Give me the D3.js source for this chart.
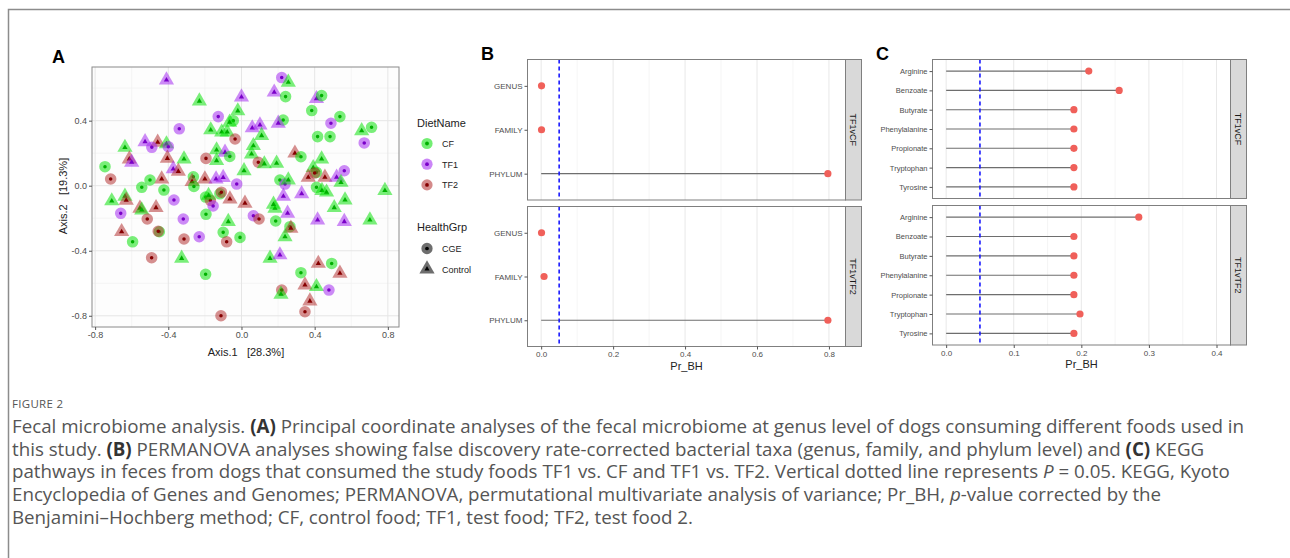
<!doctype html>
<html>
<head>
<meta charset="utf-8">
<title>Figure 2</title>
<style>
  body { margin: 0; background: #fff; }
  svg { display: block; font-family: "Liberation Sans", Arial, sans-serif; }
</style>
<script src="https://cdnjs.cloudflare.com/ajax/libs/d3/7.8.5/d3.min.js"></script>
</head>
<body>
<svg id="fig" width="1290" height="558"></svg>
<script>

// ---- panel A: PCoA points [Axis.1, Axis.2, diet, health group]
var pcoa = [
  [-0.41,0.65,"TF1","Control"],[0.22,0.665,"TF1","CGE"],[0.256,0.636,"CF","Control"],
  [-0.23,0.52,"CF","Control"],[0.0,0.545,"TF1","Control"],[0.179,0.575,"TF1","Control"],
  [0.241,0.548,"CF","CGE"],[0.41,0.535,"TF1","Control"],[0.438,0.554,"CF","CGE"],
  [0.384,0.462,"CF","CGE"],[-0.02,0.46,"CF","Control"],[-0.127,0.425,"TF1","CGE"],
  [-0.045,0.40,"CF","CGE"],[-0.065,0.39,"CF","Control"],[0.228,0.404,"CF","CGE"],
  [0.201,0.384,"TF1","Control"],[0.538,0.425,"CF","CGE"],[0.489,0.384,"TF1","CGE"],
  [-0.34,0.35,"TF1","CGE"],[0.059,0.355,"TF1","Control"],[0.101,0.373,"TF1","Control"],
  [0.11,0.308,"CF","Control"],[-0.168,0.343,"CF","Control"],[-0.108,0.33,"CF","Control"],
  [-0.078,0.33,"CF","Control"],[-0.035,0.287,"TF2","CGE"],[0.416,0.302,"CF","CGE"],
  [0.484,0.302,"CF","CGE"],[0.657,0.338,"CF","Control"],[0.711,0.359,"CF","CGE"],
  [0.671,0.263,"TF1","CGE"],[-0.527,0.27,"TF1","Control"],[-0.458,0.267,"TF2","Control"],
  [-0.41,0.257,"CF","Control"],[-0.49,0.236,"TF1","CGE"],[-0.40,0.24,"TF1","CGE"],
  [-0.637,0.235,"CF","Control"],[0.065,0.246,"CF","Control"],[-0.136,0.22,"CF","Control"],
  [-0.09,0.205,"TF1","Control"],[-0.064,0.18,"CF","CGE"],[-0.194,0.168,"TF2","CGE"],
  [0.292,0.2,"TF2","Control"],[0.325,0.178,"CF","CGE"],[0.055,0.195,"CF","Control"],
  [0.092,0.144,"TF2","CGE"],[0.125,0.134,"CF","Control"],[0.192,0.138,"CF","Control"],
  [0.438,0.164,"CF","Control"],[-0.613,0.164,"TF2","Control"],[-0.6,0.144,"TF1","Control"],
  [-0.405,0.168,"TF2","Control"],[-0.314,0.164,"CF","Control"],[-0.746,0.117,"CF","CGE"],
  [-0.136,0.154,"CF","Control"],[-0.715,0.041,"TF2","CGE"],[-0.373,0.103,"TF1","Control"],
  [-0.345,0.088,"TF2","Control"],[-0.263,0.055,"CF","CGE"],[-0.27,0.025,"TF2","Control"],
  [-0.26,-0.005,"CF","CGE"],[-0.436,0.041,"TF2","Control"],[-0.5,0.035,"CF","CGE"],
  [-0.545,-0.01,"CF","CGE"],[-0.2,0.041,"TF2","Control"],[-0.139,0.041,"TF1","Control"],
  [-0.1,0.05,"TF1","Control"],[-0.026,0.01,"TF1","CGE"],[0.014,0.092,"CF","Control"],
  [0.392,0.111,"CF","Control"],[0.365,0.052,"TF2","Control"],[0.456,0.052,"TF2","Control"],
  [0.41,0.082,"CF","CGE"],[0.40,0.078,"TF2","CGE"],[0.562,0.092,"TF1","CGE"],
  [0.52,0.052,"TF1","Control"],[0.544,0.02,"CF","Control"],[0.21,0.035,"CF","CGE"],
  [0.238,0.01,"TF1","CGE"],[0.256,0.035,"CF","Control"],[0.41,-0.01,"CF","CGE"],
  [0.44,-0.03,"CF","Control"],[0.465,-0.04,"CF","Control"],[-0.424,-0.027,"CF","CGE"],
  [0.784,-0.03,"CF","Control"],[0.329,-0.05,"TF1","Control"],[0.229,-0.065,"TF1","Control"],
  [-0.196,-0.07,"CF","CGE"],[-0.17,-0.09,"TF2","CGE"],[-0.155,-0.125,"TF1","CGE"],
  [-0.118,-0.05,"CF","CGE"],[-0.11,-0.04,"TF2","CGE"],[-0.18,-0.06,"CF","Control"],
  [-0.063,-0.082,"TF2","Control"],[0.019,-0.108,"TF2","Control"],[-0.709,-0.094,"CF","Control"],
  [-0.637,-0.065,"CF","Control"],[-0.63,-0.09,"TF2","Control"],[-0.66,-0.17,"TF1","CGE"],
  [-0.555,-0.139,"TF2","Control"],[-0.545,-0.15,"CF","Control"],[-0.467,-0.135,"TF2","Control"],
  [-0.515,-0.205,"TF2","CGE"],[-0.369,-0.088,"TF1","CGE"],[-0.318,-0.205,"TF1","CGE"],
  [-0.194,-0.176,"CF","CGE"],[-0.072,-0.221,"CF","Control"],[0.065,-0.185,"TF1","CGE"],
  [0.096,-0.205,"TF2","CGE"],[0.183,-0.139,"CF","Control"],[0.175,-0.115,"CF","Control"],
  [0.252,-0.17,"TF1","Control"],[0.187,-0.217,"CF","CGE"],[0.416,-0.211,"TF1","Control"],
  [0.562,-0.221,"TF1","Control"],[0.702,-0.211,"CF","Control"],[0.566,-0.088,"CF","Control"],
  [0.507,-0.135,"CF","Control"],[-0.655,-0.283,"TF2","Control"],[-0.595,-0.345,"CF","CGE"],
  [-0.449,-0.283,"CF","CGE"],[-0.455,-0.28,"TF2","CGE"],[-0.314,-0.328,"TF2","CGE"],
  [-0.231,-0.314,"TF1","CGE"],[-0.1,-0.287,"CF","CGE"],[-0.081,-0.345,"TF2","CGE"],
  [-0.008,-0.318,"CF","CGE"],[0.265,-0.252,"CF","CGE"],[0.27,-0.262,"TF2","Control"],
  [0.238,-0.314,"CF","Control"],[-0.491,-0.443,"TF2","CGE"],[-0.327,-0.447,"CF","Control"],
  [0.156,-0.447,"CF","Control"],[0.21,-0.426,"TF1","Control"],[0.42,-0.478,"TF2","Control"],
  [0.493,-0.478,"CF","CGE"],[0.538,-0.539,"TF2","Control"],[0.325,-0.535,"CF","CGE"],
  [-0.196,-0.545,"CF","CGE"],[0.347,-0.611,"TF2","Control"],[0.41,-0.621,"CF","Control"],
  [0.478,-0.642,"TF1","CGE"],[0.22,-0.642,"TF2","CGE"],[0.216,-0.668,"CF","Control"],
  [0.374,-0.71,"TF2","Control"],[0.347,-0.775,"TF2","CGE"],[-0.112,-0.8,"TF2","CGE"]
];
var dietNames = ["CF", "TF1", "TF2"];
var healthNames = ["CGE", "Control"];
var pcoaTicks = [-0.8, -0.4, 0.0, 0.4, 0.8];
var pcoaMinor = [-0.6, -0.2, 0.2, 0.6];

// ---- panels B and C
var contrasts = ["TF1vCF", "TF1vTF2"];
var taxa = ["GENUS", "FAMILY", "PHYLUM"];
var taxaP_TF1vCF = [0.001, 0.001, 0.797];
var taxaP_TF1vTF2 = [0.001, 0.008, 0.797];
var taxaTicks = [0.0, 0.2, 0.4, 0.6, 0.8];
var pathways = ["Arginine", "Benzoate", "Butyrate", "Phenylalanine", "Propionate", "Tryptophan", "Tyrosine"];
var keggP_TF1vCF = [0.211, 0.256, 0.189, 0.189, 0.189, 0.189, 0.189];
var keggP_TF1vTF2 = [0.285, 0.189, 0.189, 0.189, 0.189, 0.198, 0.189];
var keggTicks = [0.0, 0.1, 0.2, 0.3, 0.4];
var cutoff = 0.05;

var svg = d3.select("#fig");
svg.append("rect").attr("width", 1290).attr("height", 558).attr("fill", "#fff");

// outer frame of the figure box
svg.append("path").attr("d", "M8.5,558 V9.5 H1290").attr("fill", "none")
  .attr("stroke", "#8c8c8c").attr("stroke-width", 1.5);

var fill = { CF: "#00e000", TF1: "#a020f0", TF2: "#b02a2a" };
var dark = { CF: "#00b000", TF1: "#7a00c8", TF2: "#860000" };
var axisGrey = "#4d4d4d";
var fmt = d => d.toFixed(1);   // ggplot style labels, plain hyphen

function panelLabel(t, x, y) {
  svg.append("text").attr("x", x).attr("y", y).text(t)
    .attr("font-size", 18).attr("font-weight", "bold").attr("fill", "#000");
}

// ================= A =================
var ax = d3.scaleLinear().domain([-0.817, 0.861]).range([92, 399]);
var ay = d3.scaleLinear().domain([-0.869, 0.73]).range([327, 67]);
var gA = svg.append("g");
gA.append("rect").attr("x", 92).attr("y", 67).attr("width", 307).attr("height", 260).attr("fill", "#fdfdfd");
gA.selectAll(".mnx").data(pcoaMinor).enter().append("line")
  .attr("x1", d => ax(d)).attr("x2", d => ax(d)).attr("y1", 67).attr("y2", 327)
  .attr("stroke", "#f2f2f2").attr("stroke-width", 0.8);
gA.selectAll(".mny").data(pcoaMinor).enter().append("line")
  .attr("y1", d => ay(d)).attr("y2", d => ay(d)).attr("x1", 92).attr("x2", 399)
  .attr("stroke", "#f2f2f2").attr("stroke-width", 0.8);
gA.selectAll(".mjx").data(pcoaTicks).enter().append("line")
  .attr("x1", d => ax(d)).attr("x2", d => ax(d)).attr("y1", 67).attr("y2", 327)
  .attr("stroke", "#e6e6e6").attr("stroke-width", 1);
gA.selectAll(".mjy").data(pcoaTicks.filter(d => d < 0.7)).enter().append("line")
  .attr("y1", d => ay(d)).attr("y2", d => ay(d)).attr("x1", 92).attr("x2", 399)
  .attr("stroke", "#e6e6e6").attr("stroke-width", 1);

var pts = gA.selectAll(".pt").data(pcoa).enter().append("g")
  .attr("transform", d => "translate(" + ax(d[0]) + "," + ay(d[1]) + ")");
pts.append("path")
  .attr("d", d => d3.symbol().type(d[3] === "CGE" ? d3.symbolCircle : d3.symbolTriangle).size(d[3] === "CGE" ? 105 : 100)())
  .attr("fill", d => fill[d[2]]).attr("fill-opacity", 0.52);
pts.append("path")
  .attr("d", d => d3.symbol().type(d[3] === "CGE" ? d3.symbolCircle : d3.symbolTriangle).size(d[3] === "CGE" ? 10 : 12)())
  .attr("fill", d => dark[d[2]]);

gA.append("rect").attr("x", 92).attr("y", 67).attr("width", 307).attr("height", 260)
  .attr("fill", "none").attr("stroke", "#8a8a8a").attr("stroke-width", 1);

var axA = gA.append("g").attr("transform", "translate(0,327)")
  .call(d3.axisBottom(ax).tickValues(pcoaTicks).tickSize(3).tickPadding(2).tickFormat(fmt));
var ayA = gA.append("g").attr("transform", "translate(92,0)")
  .call(d3.axisLeft(ay).tickValues(pcoaTicks.filter(d => d < 0.7)).tickSize(3).tickPadding(2).tickFormat(fmt));
[axA, ayA].forEach(function (g) {
  g.select(".domain").remove();
  g.selectAll("line").attr("stroke", "#555");
  g.selectAll("text").attr("font-size", 9).attr("fill", axisGrey)
    .attr("font-family", "Liberation Sans, Arial, sans-serif");
});
gA.append("text").attr("x", 246).attr("y", 356).attr("text-anchor", "middle")
  .attr("font-size", 11).attr("fill", "#222").attr("xml:space", "preserve").text("Axis.1   [28.3%]");
gA.append("text").attr("transform", "translate(67,196) rotate(-90)").attr("text-anchor", "middle")
  .attr("font-size", 11).attr("fill", "#222").attr("xml:space", "preserve").text("Axis.2   [19.3%]");
panelLabel("A", 52, 63);

// legend
var lg = svg.append("g");
lg.append("text").attr("x", 417).attr("y", 127).attr("font-size", 11).attr("fill", "#222").text("DietName");
dietNames.forEach(function (n, i) {
  var y = 143.5 + i * 20.7;
  lg.append("circle").attr("cx", 427).attr("cy", y).attr("r", 5.6).attr("fill", fill[n]).attr("fill-opacity", 0.55);
  lg.append("circle").attr("cx", 427).attr("cy", y).attr("r", 1.9).attr("fill", dark[n]);
  lg.append("text").attr("x", 442).attr("y", y + 3.5).attr("font-size", 9).attr("fill", "#222").text(n);
});
lg.append("text").attr("x", 417).attr("y", 231).attr("font-size", 11).attr("fill", "#222").text("HealthGrp");
healthNames.forEach(function (n, i) {
  var y = 248.5 + i * 20.5;
  var t = i === 0 ? d3.symbolCircle : d3.symbolTriangle;
  lg.append("path").attr("transform", "translate(427," + y + ")").attr("d", d3.symbol().type(t).size(100)())
    .attr("fill", "#555").attr("fill-opacity", 0.85);
  lg.append("path").attr("transform", "translate(427," + y + ")").attr("d", d3.symbol().type(t).size(11)())
    .attr("fill", "#000");
  lg.append("text").attr("x", 442).attr("y", y + 3.5).attr("font-size", 9).attr("fill", "#222").text(n);
});

// ================= B & C (lollipop facets) =================
function lollipop(opt) {
  var g = svg.append("g");
  var x = d3.scaleLinear().domain(opt.domain).range([opt.left, opt.right]);
  var minor = d3.range(opt.ticks.length - 1).map(i => (opt.ticks[i] + opt.ticks[i + 1]) / 2);
  opt.panels.forEach(function (p, pi) {
    var y = d3.scalePoint().domain(opt.cats).range([p.top, p.bottom]).padding(0.6);
    g.append("rect").attr("x", opt.left).attr("y", p.top).attr("width", opt.right - opt.left)
      .attr("height", p.bottom - p.top).attr("fill", "#fff");
    g.selectAll(null).data(minor).enter().append("line")
      .attr("x1", d => x(d)).attr("x2", d => x(d)).attr("y1", p.top).attr("y2", p.bottom)
      .attr("stroke", "#f3f3f3").attr("stroke-width", 0.8);
    g.selectAll(null).data(opt.ticks).enter().append("line")
      .attr("x1", d => x(d)).attr("x2", d => x(d)).attr("y1", p.top).attr("y2", p.bottom)
      .attr("stroke", "#e8e8e8").attr("stroke-width", 1);
    g.selectAll(null).data(opt.cats).enter().append("line")
      .attr("x1", x(0)).attr("x2", (d, i) => x(p.values[i]))
      .attr("y1", d => y(d)).attr("y2", d => y(d))
      .attr("stroke", "#6e6e6e").attr("stroke-width", 1.1);
    g.append("line").attr("x1", x(cutoff)).attr("x2", x(cutoff)).attr("y1", p.top).attr("y2", p.bottom)
      .attr("stroke", "#1a1aff").attr("stroke-width", 1.6).attr("stroke-dasharray", "4,3");
    g.selectAll(null).data(opt.cats).enter().append("circle")
      .attr("cx", (d, i) => x(p.values[i])).attr("cy", d => y(d)).attr("r", 3.6)
      .attr("fill", "#f0605a");
    g.append("rect").attr("x", opt.left).attr("y", p.top).attr("width", opt.right - opt.left)
      .attr("height", p.bottom - p.top).attr("fill", "none").attr("stroke", "#7f7f7f").attr("stroke-width", 1);
    // strip
    g.append("rect").attr("x", opt.right).attr("y", p.top).attr("width", opt.strip)
      .attr("height", p.bottom - p.top).attr("fill", "#d9d9d9").attr("stroke", "#7f7f7f").attr("stroke-width", 1);
    g.append("text").attr("transform", "translate(" + (opt.right + opt.strip / 2 - 3.2) + "," + ((p.top + p.bottom) / 2) + ") rotate(90)")
      .attr("text-anchor", "middle").attr("font-size", 9).attr("fill", "#1a1a1a").text(p.label);
    var ya = g.append("g").attr("transform", "translate(" + opt.left + ",0)")
      .call(d3.axisLeft(y).tickSize(3).tickPadding(2));
    ya.select(".domain").remove();
    ya.selectAll("line").attr("stroke", "#555");
    ya.selectAll("text").attr("font-size", opt.catSize).attr("fill", axisGrey)
      .attr("font-family", "Liberation Sans, Arial, sans-serif");
  });
  var bottom = opt.panels[opt.panels.length - 1].bottom;
  var xa = g.append("g").attr("transform", "translate(0," + bottom + ")")
    .call(d3.axisBottom(x).tickValues(opt.ticks).tickSize(3).tickPadding(2).tickFormat(fmt));
  xa.select(".domain").remove();
  xa.selectAll("line").attr("stroke", "#555");
  xa.selectAll("text").attr("font-size", 8).attr("fill", axisGrey)
    .attr("font-family", "Liberation Sans, Arial, sans-serif");
  g.append("text").attr("x", (opt.left + opt.right) / 2).attr("y", bottom + 23)
    .attr("text-anchor", "middle").attr("font-size", 11).attr("fill", "#222").text("Pr_BH");
}

lollipop({
  left: 527.5, right: 845.5, strip: 16, domain: [-0.038, 0.846], ticks: taxaTicks,
  cats: taxa, catSize: 8,
  panels: [
    { top: 59.5, bottom: 200, label: contrasts[0], values: taxaP_TF1vCF },
    { top: 206.5, bottom: 346.5, label: contrasts[1], values: taxaP_TF1vTF2 }
  ]
});
panelLabel("B", 481, 60);

lollipop({
  left: 932.5, right: 1230.5, strip: 16, domain: [-0.0202, 0.4207], ticks: keggTicks,
  cats: pathways, catSize: 7.5,
  panels: [
    { top: 59.5, bottom: 198.5, label: contrasts[0], values: keggP_TF1vCF },
    { top: 205.5, bottom: 345, label: contrasts[1], values: keggP_TF1vTF2 }
  ]
});
panelLabel("C", 876, 60);

// ================= caption =================
var captionTitle = "FIGURE 2";
var captionLines = [
  [["Fecal microbiome analysis. ", ""], ["(A)", "b"], [" Principal coordinate analyses of the fecal microbiome at genus level of dogs consuming different foods used in", ""]],
  [["this study. ", ""], ["(B)", "b"], [" PERMANOVA analyses showing false discovery rate-corrected bacterial taxa (genus, family, and phylum level) and ", ""], ["(C)", "b"], [" KEGG", ""]],
  [["pathways in feces from dogs that consumed the study foods TF1 vs. CF and TF1 vs. TF2. Vertical dotted line represents ", ""], ["P", "i"], [" = 0.05. KEGG, Kyoto", ""]],
  [["Encyclopedia of Genes and Genomes; PERMANOVA, permutational multivariate analysis of variance; Pr_BH, ", ""], ["p", "i"], ["-value corrected by the", ""]],
  [["Benjamini\u2013Hochberg method; CF, control food; TF1, test food; TF2, test food 2.", ""]]
];
var cap = svg.append("g").attr("font-family", "'Open Sans', 'Noto Sans', sans-serif").attr("fill", "#555");
cap.append("text").attr("x", 12).attr("y", 408).attr("font-size", 11.5).attr("letter-spacing", 0.3).text(captionTitle);
var capText = captionLines.map(function (line, i) {
  var t = cap.append("text").attr("x", 12).attr("y", 433 + i * 22.7).attr("font-size", 16);
  line.forEach(function (s) {
    var ts = t.append("tspan").text(s[0]);
    if (s[1] === "b") ts.attr("font-weight", "bold").attr("fill", "#333");
    if (s[1] === "i") ts.attr("font-style", "italic");
  });
  return t;
});
// fit first line to the box width
var w0 = capText[0].node().getComputedTextLength();
var fs = 16 * 1233 / w0;
capText.forEach(t => t.attr("font-size", fs));

</script>
</body>
</html>
